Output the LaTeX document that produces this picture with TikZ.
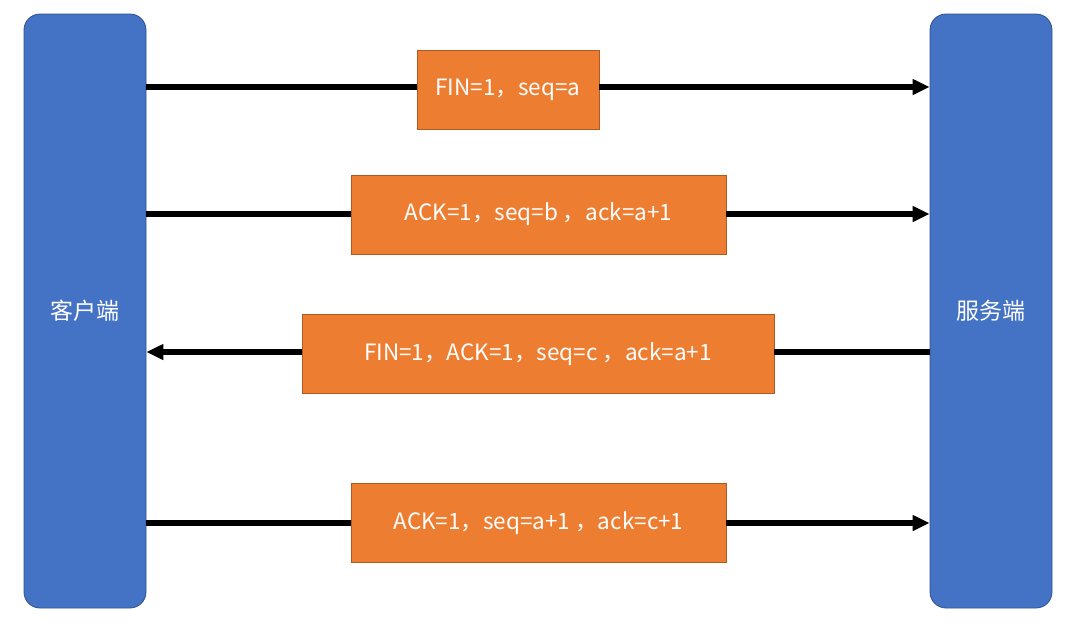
\documentclass[tikz,border=0pt]{standalone}
\usepackage{fontspec}
\setmainfont{Noto Sans CJK SC}
\usetikzlibrary{arrows.meta}
\definecolor{laneblue}{HTML}{4472C4}
\definecolor{laneedge}{HTML}{2F528F}
\definecolor{msgorange}{HTML}{ED7D31}
\definecolor{msgedge}{HTML}{AE5A21}
\begin{document}
\begin{tikzpicture}[x=1pt,y=-1pt,
  lane/.style={draw=laneedge,line width=0.8pt,fill=laneblue,rounded corners=16pt,minimum width=122pt,minimum height=594pt,inner sep=0pt,text=white,font=\fontsize{23}{23}\selectfont},
  msg/.style={draw=msgedge,line width=0.8pt,fill=msgorange,minimum height=79pt,inner sep=0pt,text=white,font=\fontsize{22.5}{22.5}\selectfont},
  link/.style={line width=6pt},
  tip/.style={-{Triangle[length=17pt,width=15pt]}}]
\useasboundingbox (0,0) rectangle (1066,625);
\node[lane] (client) at (85,311) {客户端};
\node[lane] (server) at (991,311) {服务端};
\node[msg,minimum width=182pt] (m1) at (508,89.5) {FIN=1，seq=a};
\node[msg,minimum width=375pt] (m2) at (538.5,214.5) {ACK=1，seq=b ，ack=a+1};
\node[msg,minimum width=472pt] (m3) at (538,354) {FIN=1，ACK=1，seq=c ，ack=a+1};
\node[msg,minimum width=375pt] (m4) at (538.5,523) {ACK=1，seq=a+1 ，ack=c+1};
\coordinate (c1) at (client.east |- 0,87);
\coordinate (s1) at (server.west |- 0,87);
\coordinate (c2) at (client.east |- 0,214);
\coordinate (s2) at (server.west |- 0,214);
\coordinate (c3) at (client.east |- 0,352);
\coordinate (s3) at (server.west |- 0,352);
\coordinate (c4) at (client.east |- 0,523);
\coordinate (s4) at (server.west |- 0,523);
\draw[link] (c1) -- (m1.west |- c1);
\draw[link,tip] (m1.east |- s1) -- (s1);
\draw[link] (c2) -- (m2.west |- c2);
\draw[link,tip] (m2.east |- s2) -- (s2);
\draw[link] (s3) -- (m3.east |- s3);
\draw[link,tip] (m3.west |- c3) -- (c3);
\draw[link] (c4) -- (m4.west |- c4);
\draw[link,tip] (m4.east |- s4) -- (s4);
\end{tikzpicture}
\end{document}
